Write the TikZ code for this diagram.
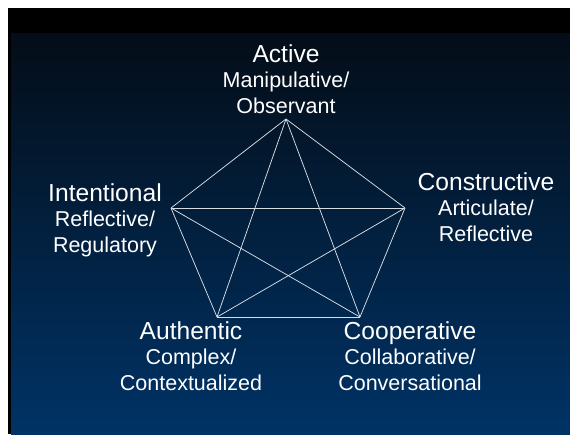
\documentclass[tikz,border=0pt]{standalone}
\usepackage{fontspec}
\setmainfont{Liberation Sans}
\definecolor{slidetop}{HTML}{040D18}
\definecolor{slidemid}{HTML}{08264A}
\definecolor{slidenavy}{HTML}{003366}
\definecolor{edgegray}{HTML}{D8DDE4}
\tikzset{
  facet/.style={text=white, align=center, inner sep=0pt,
    font=\fontsize{21.5}{25.5}\selectfont},
  facetedge/.style={draw=edgegray, line width=0.75pt},
}
\newcommand{\facethead}[1]{{\fontsize{24.6}{27}\selectfont #1}}
\begin{document}
\begin{tikzpicture}[x=1pt,y=-1pt]
      % slide background
      \fill[white] (0,0) rectangle (570,434);
      \fill[black] (8,8) rectangle (570,434);
      \shade[top color=slidetop, middle color=slidemid, bottom color=slidenavy]
        (11,33) rectangle (570,434);
      % corners of the pentagon
      \coordinate (active) at (286,119);
      \coordinate (constructive) at (405,208);
      \coordinate (cooperative) at (360,317);
      \coordinate (authentic) at (217,317);
      \coordinate (intentional) at (171,208);
      \begin{scope}[facetedge]
        \draw (active) to (constructive);
        \draw (active) to (cooperative);
        \draw (active) to (authentic);
        \draw (active) to (intentional);
        \draw (constructive) to (cooperative);
        \draw (constructive) to (authentic);
        \draw (constructive) to (intentional);
        \draw (cooperative) to (authentic);
        \draw (cooperative) to (intentional);
        \draw (authentic) to (intentional);
      \end{scope}
      % labels
      \node[facet] (activelbl) at (286,79) {\facethead{Active}\\Manipulative/\\Observant};
      \node[facet] (constructivelbl) at (486,207) {\facethead{Constructive}\\Articulate/\\Reflective};
      \node[facet] (cooperativelbl) at (410,356) {\facethead{Cooperative}\\Collaborative/\\Conversational};
      \node[facet] (authenticlbl) at (191,356) {\facethead{Authentic}\\Complex/\\Contextualized};
      \node[facet] (intentionallbl) at (105,220) {\facethead{Intentional}\\Reflective/\\Regulatory};
    \end{tikzpicture}
\end{document}
